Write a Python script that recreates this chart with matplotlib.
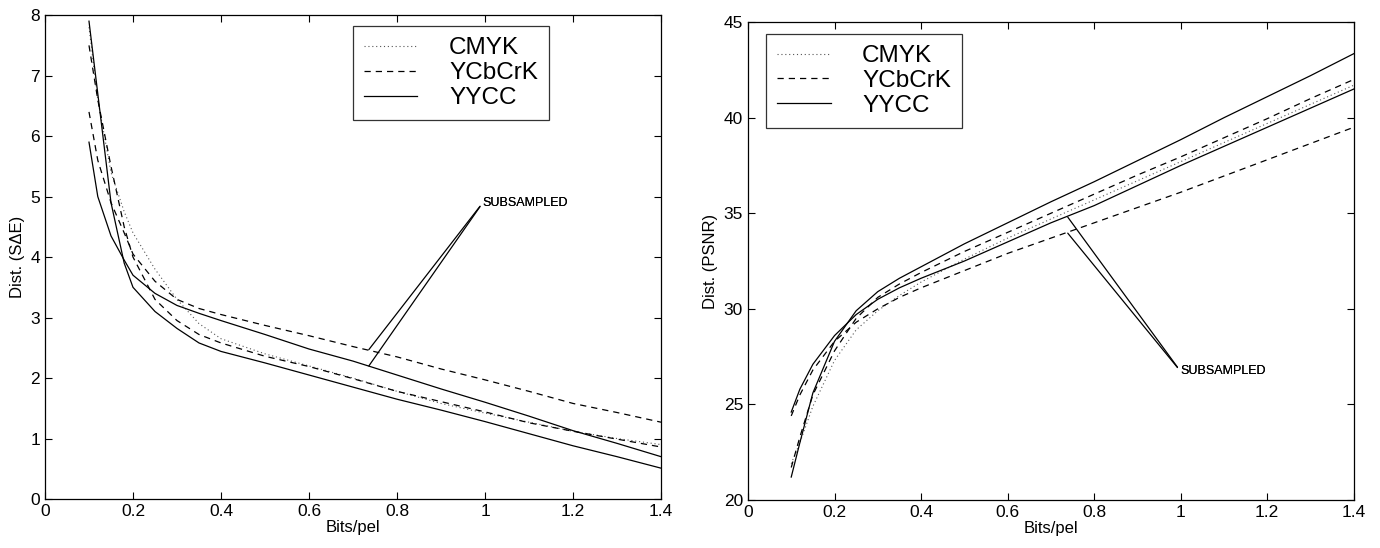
import matplotlib
matplotlib.use("Agg")
import matplotlib.pyplot as plt

plt.rcParams["font.family"] = ["Liberation Sans", "DejaVu Sans"]

# ------------------ Data: distortion (S-delta-E) ------------------
x_se = [0.1, 0.12, 0.15, 0.18, 0.2, 0.25, 0.3, 0.35, 0.4, 0.5, 0.6, 0.7, 0.8, 0.9, 1.0, 1.1, 1.2, 1.3, 1.4]
se_cmyk = [7.8, 6.6, 5.4, 4.75, 4.4, 3.8, 3.3, 2.9, 2.65, 2.4, 2.2, 2.0, 1.78, 1.58, 1.42, 1.27, 1.12, 1.0, 0.9]
se_ycbcrk = [7.5, 6.6, 5.5, 4.5, 4.0, 3.3, 2.95, 2.72, 2.58, 2.36, 2.19, 1.99, 1.78, 1.61, 1.44, 1.26, 1.12, 0.99, 0.86]
se_yycc = [7.9, 6.7, 4.9, 3.9, 3.5, 3.1, 2.82, 2.58, 2.44, 2.25, 2.05, 1.85, 1.65, 1.47, 1.28, 1.08, 0.88, 0.7, 0.51]
se_ycbcrk_sub = [6.4, 5.6, 4.9, 4.4, 4.05, 3.6, 3.3, 3.15, 3.05, 2.87, 2.7, 2.52, 2.35, 2.15, 1.97, 1.78, 1.58, 1.43, 1.27]
se_yycc_sub = [5.9, 5.0, 4.35, 3.95, 3.7, 3.4, 3.2, 3.07, 2.95, 2.72, 2.48, 2.28, 2.05, 1.82, 1.6, 1.37, 1.13, 0.92, 0.7]

# ------------------ Data: PSNR ------------------
x_ps = [0.1, 0.12, 0.15, 0.2, 0.25, 0.3, 0.35, 0.4, 0.5, 0.6, 0.7, 0.8, 0.9, 1.0, 1.1, 1.2, 1.3, 1.4]
ps_cmyk = [21.9, 23.0, 24.9, 27.3, 28.9, 29.9, 30.7, 31.4, 32.6, 33.7, 34.7, 35.7, 36.7, 37.7, 38.7, 39.7, 40.7, 41.7]
ps_ycbcrk = [21.7, 23.3, 25.5, 27.8, 29.5, 30.6, 31.3, 31.9, 33.0, 34.0, 35.0, 36.0, 37.0, 37.95, 38.95, 39.95, 41.0, 42.0]
ps_yycc = [21.2, 23.0, 25.6, 28.3, 29.9, 30.9, 31.6, 32.2, 33.4, 34.5, 35.6, 36.65, 37.75, 38.85, 40.0, 41.1, 42.2, 43.35]
ps_ycbcrk_sub = [24.4, 25.5, 26.8, 28.3, 29.3, 30.0, 30.6, 31.1, 32.0, 32.9, 33.7, 34.5, 35.3, 36.1, 36.95, 37.8, 38.65, 39.5]
ps_yycc_sub = [24.6, 25.8, 27.1, 28.6, 29.7, 30.5, 31.1, 31.6, 32.5, 33.5, 34.5, 35.4, 36.45, 37.5, 38.5, 39.5, 40.5, 41.5]

labels = ["CMYK", "YCbCrK", "YYCC"]

fig = plt.figure(figsize=(13.8, 5.48), dpi=100)
ax1 = fig.add_axes([0.0326, 0.0894, 0.4464, 0.883])
ax2 = fig.add_axes([0.542, 0.0876, 0.439, 0.872])

dash = (0, (5, 4))
dot = (0, (1, 2.5))


def style_axes(ax):
    ax.set_xlim(0, 1.4)
    ax.set_xticks([0, 0.2, 0.4, 0.6, 0.8, 1.0, 1.2, 1.4])
    ax.set_xticklabels(["0", "0.2", "0.4", "0.6", "0.8", "1", "1.2", "1.4"])
    ax.tick_params(direction="in", top=True, right=True, labelsize=12.5, length=5, width=0.8)
    for s in ax.spines.values():
        s.set_linewidth(0.9)
    ax.set_xlabel("Bits/pel", fontsize=12, labelpad=1)


def subsampled(ax, targets, anchor):
    for pt in targets:
        ax.annotate("SUBSAMPLED", xy=pt, xytext=anchor, fontsize=9,
                    ha="left", va="center",
                    arrowprops=dict(arrowstyle="-", lw=0.9, color="black",
                                    shrinkA=0, shrinkB=0, relpos=(0, 0.5)))


def legend(ax, anchor):
    leg = ax.legend(loc="upper left", bbox_to_anchor=anchor, fontsize=17.5, frameon=True,
                    fancybox=False, edgecolor="black", handlelength=2.2, handletextpad=1.3,
                    labelspacing=0.12, borderpad=0.45, borderaxespad=0)
    leg.get_frame().set_linewidth(0.9)


# ------------------ Left: S-delta-E ------------------
ax1.plot(x_se, se_cmyk, color="#555555", lw=0.8, linestyle=dot, label=labels[0])
ax1.plot(x_se, se_ycbcrk, color="black", lw=0.9, linestyle=dash, label=labels[1])
ax1.plot(x_se, se_yycc, color="black", lw=0.9, label=labels[2])
ax1.plot(x_se, se_ycbcrk_sub, color="black", lw=0.9, linestyle=dash)
ax1.plot(x_se, se_yycc_sub, color="black", lw=0.9)
style_axes(ax1)
ax1.set_ylim(0, 8)
ax1.set_ylabel("Dist. (S\u0394E)", fontsize=12, labelpad=4)
subsampled(ax1, [(0.736, 2.47), (0.736, 2.2)], (0.995, 4.9))
legend(ax1, (0.5, 0.977))

# ------------------ Right: PSNR ------------------
ax2.plot(x_ps, ps_cmyk, color="#555555", lw=0.8, linestyle=dot, label=labels[0])
ax2.plot(x_ps, ps_ycbcrk, color="black", lw=0.9, linestyle=dash, label=labels[1])
ax2.plot(x_ps, ps_yycc, color="black", lw=0.9, label=labels[2])
ax2.plot(x_ps, ps_ycbcrk_sub, color="black", lw=0.9, linestyle=dash)
ax2.plot(x_ps, ps_yycc_sub, color="black", lw=0.9)
style_axes(ax2)
ax2.set_ylim(20, 45)
ax2.set_ylabel("Dist. (PSNR)", fontsize=12, labelpad=4)
subsampled(ax2, [(0.739, 34.8), (0.739, 33.96)], (0.999, 26.75))
legend(ax2, (0.03, 0.975))

fig.savefig("out.png", dpi=100)
